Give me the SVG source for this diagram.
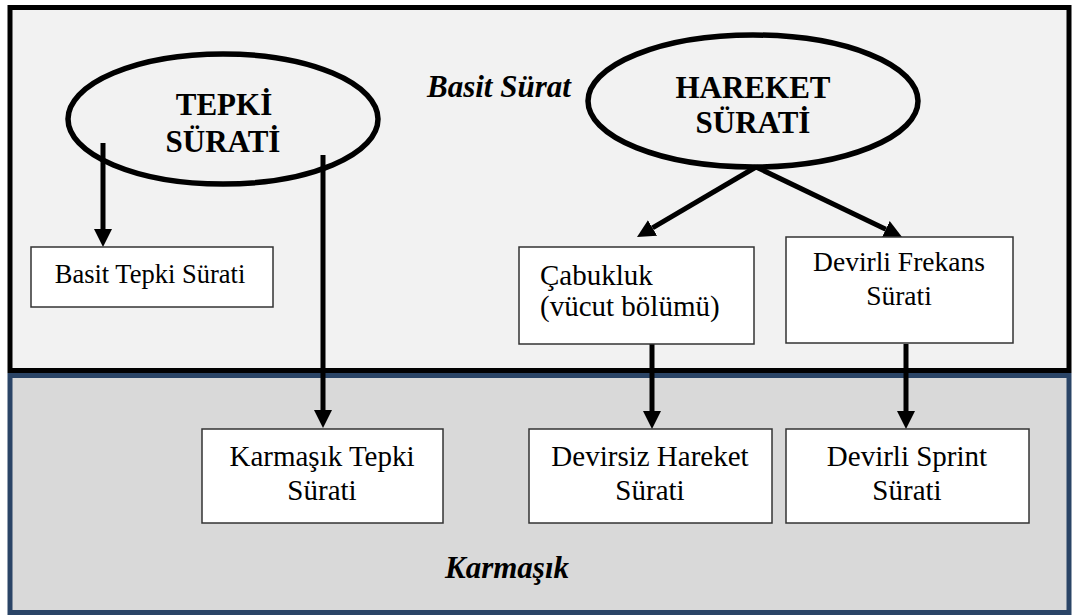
<svg xmlns="http://www.w3.org/2000/svg" width="1075" height="615" viewBox="0 0 1075 615">
<style>
.box{fill:#ffffff;stroke:#333333;stroke-width:1.5}
.t{font-family:"Liberation Serif","Times New Roman",serif;fill:#000}
.bt{font-size:29px;text-anchor:middle}
.ell{fill:none;stroke:#000;stroke-width:5.5}
.et{font-size:31px;font-weight:bold;text-anchor:middle}
.lbl{font-size:31px;font-weight:bold;font-style:italic}
.conn line{stroke:#000;stroke-width:5}
</style>
<defs>
<marker id="ah" markerUnits="userSpaceOnUse" markerWidth="18" markerHeight="18" refX="0" refY="9" orient="auto" viewBox="0 0 18 18">
<path d="M0,0 L18,9 L0,18 z" fill="#000"/>
</marker>
</defs>
<rect width="1075" height="615" fill="#ffffff"/>
<g id="zone-basit">
<rect x="10" y="7.5" width="1059" height="363" fill="#f2f2f2" stroke="#000" stroke-width="5"/>
<text class="t lbl" x="427" y="97">Basit Sürat</text>
</g>
<g id="zone-karmasik">
<rect x="10" y="375.5" width="1059" height="237" fill="#d9d9d9" stroke="#2a4466" stroke-width="5"/>
<text class="t lbl" x="445" y="578">Karmaşık</text>
</g>
<g class="conn" id="connectors">
<line x1="103" y1="143" x2="103" y2="229" marker-end="url(#ah)"/>
<line x1="323" y1="155" x2="323" y2="410" marker-end="url(#ah)"/>
<line x1="756" y1="167" x2="652.5" y2="227.9" marker-end="url(#ah)"/>
<line x1="756" y1="167" x2="885.8" y2="229.2" marker-end="url(#ah)"/>
<line x1="652" y1="344" x2="652" y2="411" marker-end="url(#ah)"/>
<line x1="906" y1="344" x2="906" y2="411" marker-end="url(#ah)"/>
</g>
<g id="tepki">
<ellipse class="ell" cx="223" cy="119" rx="155" ry="65"/>
<text class="t et" x="224" y="115">TEPKİ</text>
<text class="t et" x="223" y="152">SÜRATİ</text>
</g>
<g id="hareket">
<ellipse class="ell" cx="753" cy="101" rx="165" ry="66"/>
<text class="t et" x="753" y="98">HAREKET</text>
<text class="t et" x="753" y="133">SÜRATİ</text>
</g>
<g id="basit-tepki">
<rect class="box" x="31" y="247" width="242" height="60"/>
<text class="t" x="150" y="283" font-size="26.5" text-anchor="middle">Basit Tepki Sürati</text>
</g>
<g id="cabukluk">
<rect class="box" x="519" y="247" width="235" height="97"/>
<text class="t" x="540" y="285" font-size="29">Çabukluk</text>
<text class="t" x="540" y="316" font-size="29">(vücut bölümü)</text>
</g>
<g id="devirli-frekans">
<rect class="box" x="786" y="237" width="227" height="106"/>
<text class="t" x="899" y="271" font-size="27.5" text-anchor="middle">Devirli Frekans</text>
<text class="t" x="899" y="305" font-size="27.5" text-anchor="middle">Sürati</text>
</g>
<g id="karmasik-tepki">
<rect class="box" x="202" y="429" width="241" height="94"/>
<text class="t bt" x="322" y="466">Karmaşık Tepki</text>
<text class="t bt" x="322" y="500">Sürati</text>
</g>
<g id="devirsiz">
<rect class="box" x="529" y="429" width="243" height="94"/>
<text class="t bt" x="650" y="466">Devirsiz Hareket</text>
<text class="t bt" x="650" y="500">Sürati</text>
</g>
<g id="devirli-sprint">
<rect class="box" x="786" y="429" width="243" height="94"/>
<text class="t bt" x="907" y="466">Devirli Sprint</text>
<text class="t bt" x="907" y="500">Sürati</text>
</g>
</svg>
